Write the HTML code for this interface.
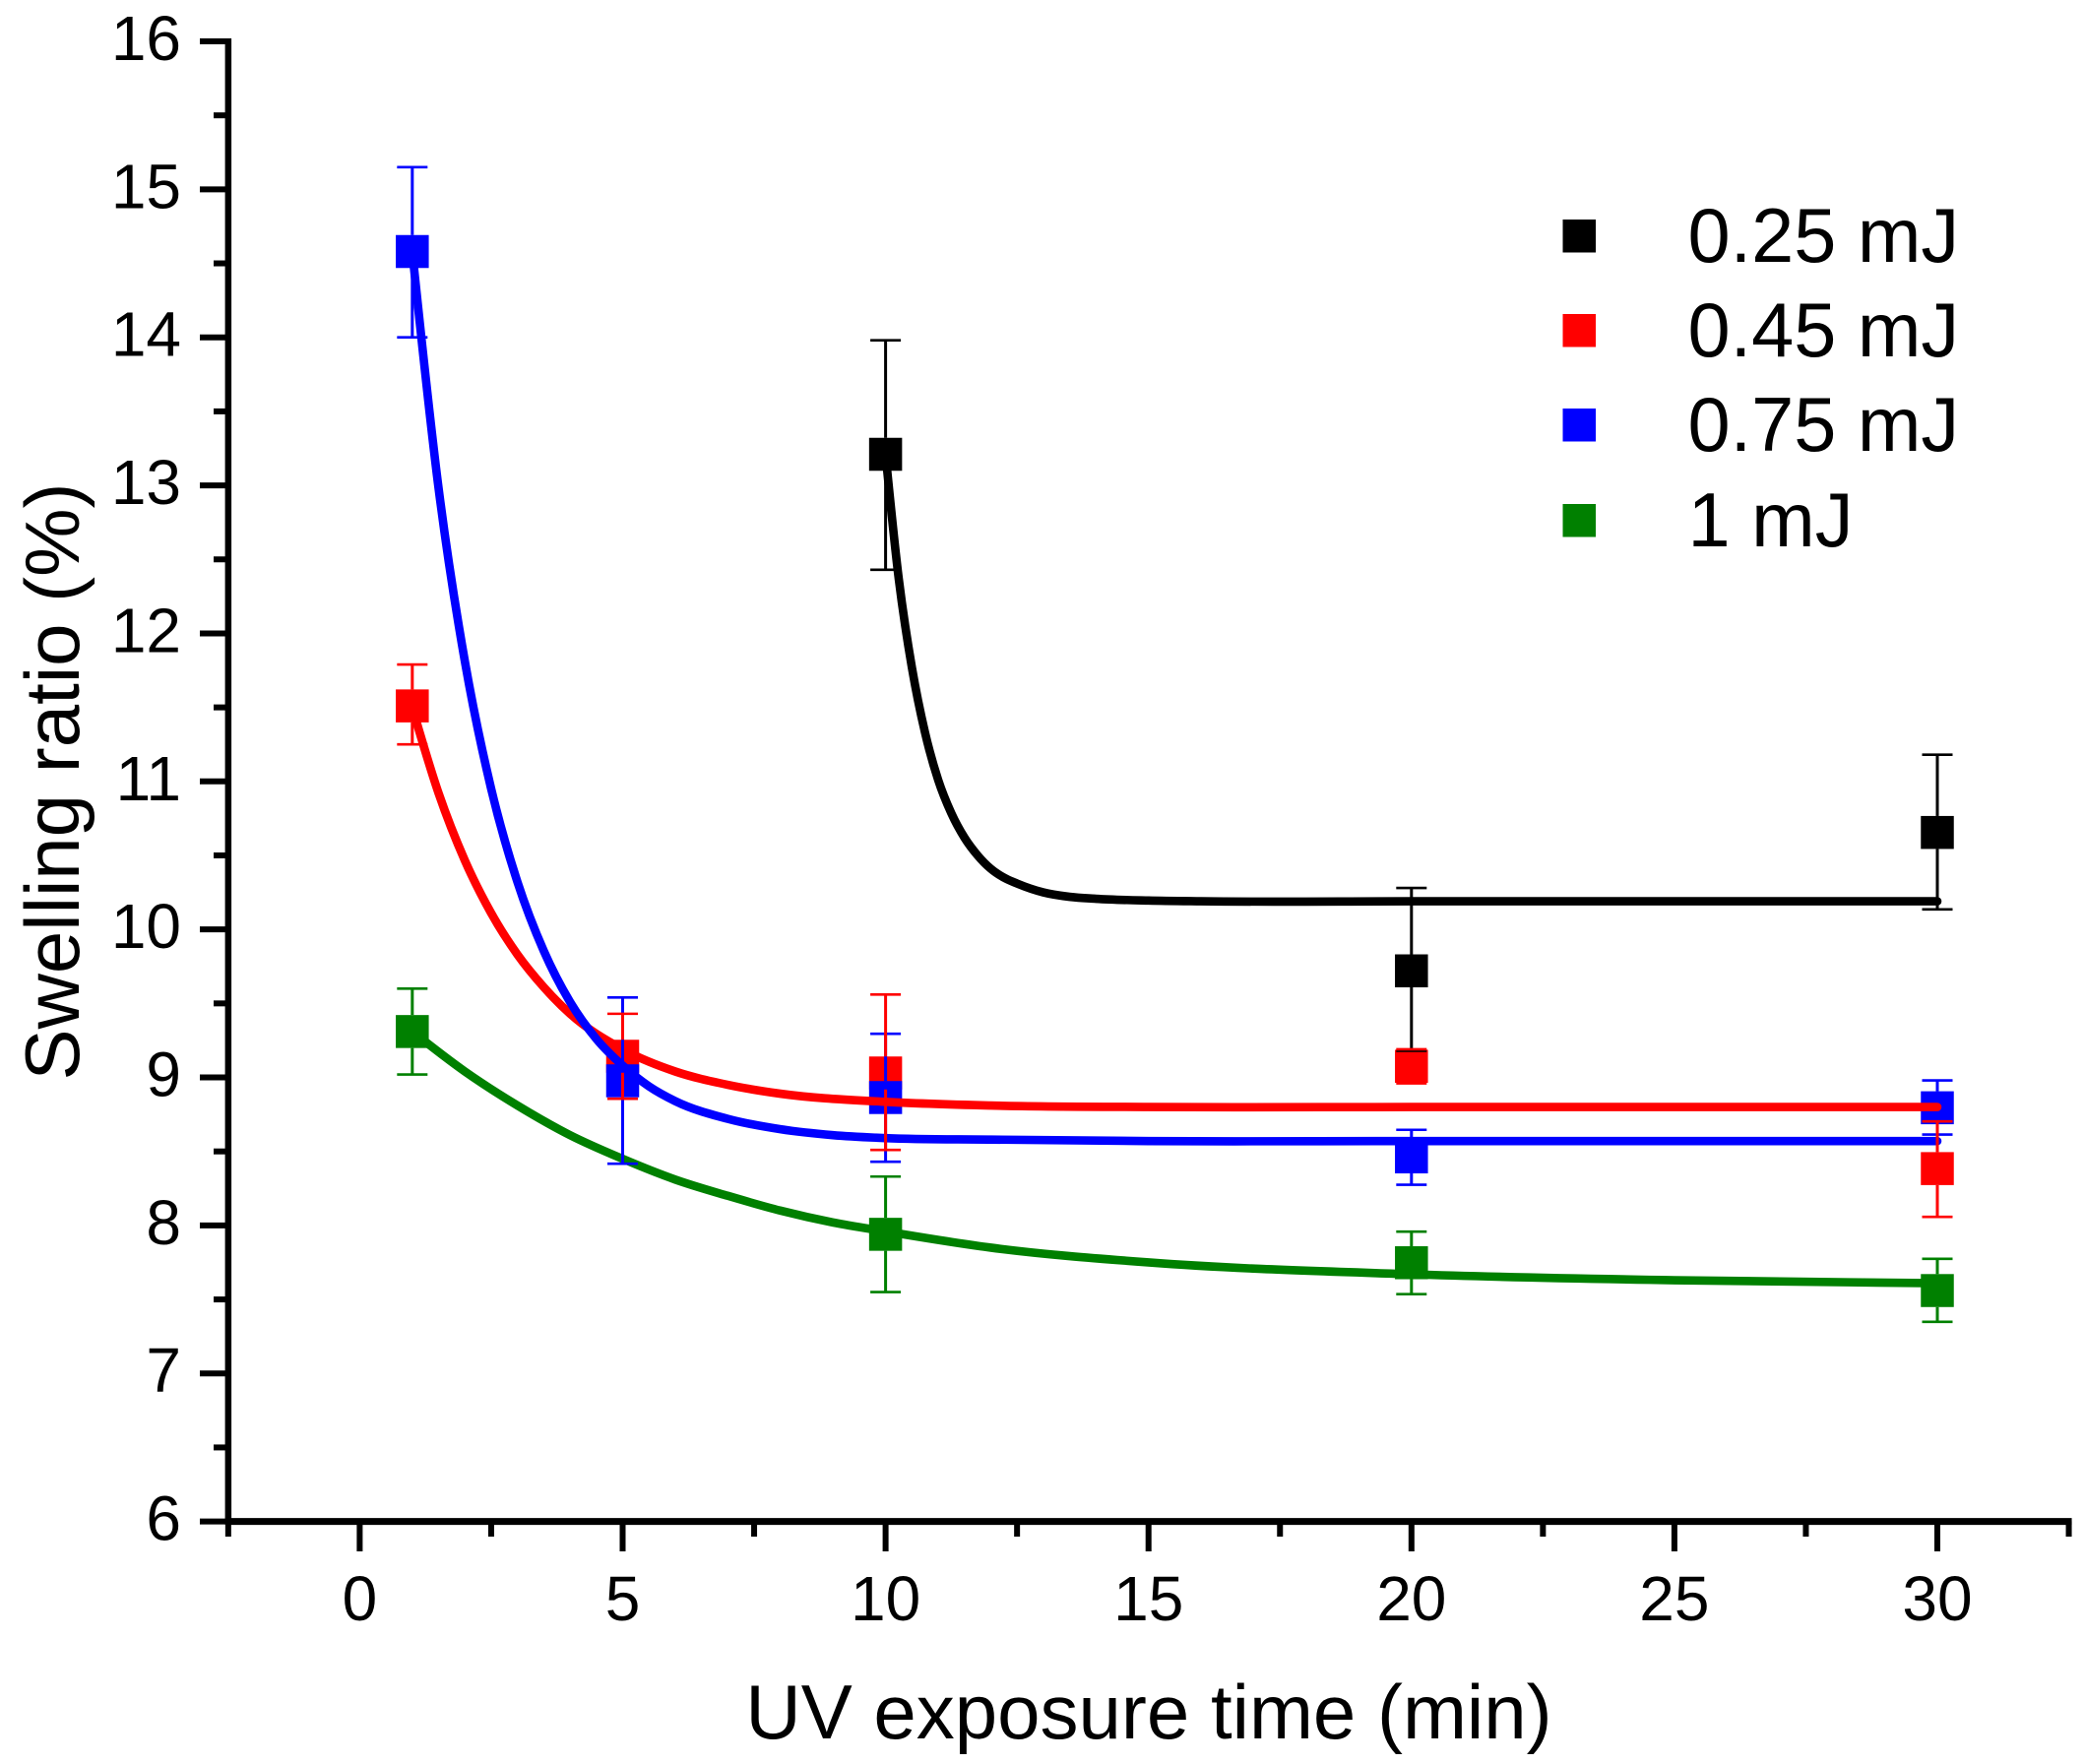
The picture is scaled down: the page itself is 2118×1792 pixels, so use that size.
<!DOCTYPE html>
<html lang="en">
<head>
<meta charset="utf-8">
<title>Swelling ratio vs UV exposure time</title>
<style>
  html, body { margin: 0; padding: 0; background: #fff; }
  svg { display: block; }
  text { font-family: "Liberation Sans", Arial, sans-serif; fill: #000; }
</style>
</head>
<body>
<svg id="chart" xmlns="http://www.w3.org/2000/svg" width="2118" height="1792" viewBox="0 0 2118 1792">
  <rect x="0" y="0" width="2118" height="1792" fill="#fff"/>
  <g id="axes"></g>
  <g id="markers"></g>
  <g id="fits"></g>
  <g id="errors"></g>
  <text x="1167" y="1766" font-size="78" text-anchor="middle">UV exposure time (min)</text>
  <text x="0" y="0" font-size="78" text-anchor="middle" transform="translate(80 794) rotate(-90)">Swelling ratio (%)</text>
  <g>
    <g>
      <rect x="1587.5" y="223" width="33.5" height="33.5" fill="#000"/>
      <text x="1714.5" y="266" font-size="77.5">0.25 mJ</text>
    </g>
    <g>
      <rect x="1587.5" y="319" width="33.5" height="33.5" fill="#f00"/>
      <text x="1714.5" y="362" font-size="77.5">0.45 mJ</text>
    </g>
    <g>
      <rect x="1587.5" y="415" width="33.5" height="33.5" fill="#00f"/>
      <text x="1714.5" y="458" font-size="77.5">0.75 mJ</text>
    </g>
    <g>
      <rect x="1587.5" y="512" width="33.5" height="33.5" fill="#008000"/>
      <text x="1714.5" y="555" font-size="77.5">1 mJ</text>
    </g>
  </g>
</svg>
<script>
// Axis tick values and labels
const xMajorTicks = [0, 5, 10, 15, 20, 25, 30];
const xMinorTicks = [-2.5, 2.5, 7.5, 12.5, 17.5, 22.5, 27.5, 32.5];
const yMajorTicks = [6, 7, 8, 9, 10, 11, 12, 13, 14, 15, 16];
const yMinorTicks = [6.5, 7.5, 8.5, 9.5, 10.5, 11.5, 12.5, 13.5, 14.5, 15.5];

// Measured points (exposure time, swelling ratio, error-bar limits)
const times025 = [10, 20, 30];
const values025 = [13.21, 9.72, 10.655];
const upper025 = [13.98, 10.28, 11.18];
const lower025 = [12.43, 9.18, 10.135];

const times045 = [1, 5, 10, 20, 30];
const values045 = [11.51, 9.143, 9.03, 9.075, 8.384];
const upper045 = [11.79, 9.43, 9.56, 9.19, 8.703];
const lower045 = [11.25, 8.856, 8.51, 8.96, 8.058];

const times075 = [1, 5, 10, 20, 30];
const values075 = [14.58, 8.977, 8.864, 8.463, 8.795];
const upper075 = [15.15, 9.54, 9.295, 8.646, 8.98];
const lower075 = [14.0, 8.417, 8.43, 8.275, 8.614];

const times100 = [1, 10, 20, 30];
const values100 = [9.31, 7.94, 7.748, 7.56];
const upper100 = [9.6, 8.33, 7.958, 7.774];
const lower100 = [9.02, 7.55, 7.536, 7.349];

// Fit curves
const fitX025 = [10, 10.25, 10.5, 10.75, 11, 11.25, 11.5, 11.75, 12, 12.25, 12.5, 13, 13.5, 14, 15, 16, 20, 30];
const fitY025 = [13.21, 12.37, 11.77, 11.33, 11.01, 10.785, 10.62, 10.5, 10.41, 10.35, 10.31, 10.25, 10.22, 10.207, 10.195, 10.19, 10.19, 10.19];

const fitX045 = [1, 1.5, 2, 2.5, 3, 3.5, 4, 5, 6, 7, 8, 10, 12, 15, 20, 30];
const fitY045 = [11.5, 10.92, 10.465, 10.11, 9.83, 9.61, 9.43, 9.19, 9.04, 8.95, 8.89, 8.835, 8.81, 8.8, 8.8, 8.8];

const fitX075 = [1, 1.5, 2, 2.5, 3, 3.5, 4, 4.5, 5, 5.5, 6, 7, 8, 9, 10, 12, 15, 20, 30];
const fitY075 = [14.58, 12.98, 11.81, 10.95, 10.32, 9.855, 9.51, 9.26, 9.08, 8.94, 8.84, 8.72, 8.65, 8.61, 8.59, 8.58, 8.57, 8.57, 8.57];

const fitX100 = [1, 2, 3, 4, 5, 6, 7, 8, 9, 10, 12, 15, 20, 25, 30];
const fitY100 = [9.31, 9.04, 8.81, 8.61, 8.45, 8.31, 8.2, 8.1, 8.02, 7.96, 7.85, 7.75, 7.67, 7.63, 7.61];

const NS = 'http://www.w3.org/2000/svg';
const px = v => 365.4 + v * 53.42;
const py = v => 1545.6 - (v - 6) * 150.36;

const COL025 = '#000000', COL045 = '#ff0000', COL075 = '#0000ff', COL100 = '#008000';
const MARKER = 33.5, CAP = 31;

function make(tag, attrs, parent) {
  const el = document.createElementNS(NS, tag);
  for (const k in attrs) el.setAttribute(k, attrs[k]);
  parent.appendChild(el);
  return el;
}

const axes = document.getElementById('axes');
const markers = document.getElementById('markers');
const fits = document.getElementById('fits');
const errors = document.getElementById('errors');

function drawAxes() {
  const xAxisLine = make('line', { x1: px(-2.5) - 3, x2: px(32.5) + 3, y1: py(6), y2: py(6), stroke: '#000', 'stroke-width': 7 }, axes);
  
  
  const yAxisLine = make('line', { x1: px(-2.5), x2: px(-2.5), y1: py(16) - 3, y2: py(6) + 3, stroke: '#000', 'stroke-width': 6.5 }, axes);
  
  

  xMajorTicks.forEach(v => {
    const t = make('line', { x1: px(v), x2: px(v), y1: py(6), y2: 1576, stroke: '#000', 'stroke-width': 6 }, axes);
    
    
    const l = make('text', { x: px(v), y: 1646, 'font-size': 64, 'text-anchor': 'middle' }, axes);
    
    
    l.textContent = String(v);
  });
  xMinorTicks.forEach(v => {
    const t = make('line', { x1: px(v), x2: px(v), y1: py(6), y2: 1561, stroke: '#000', 'stroke-width': 6 }, axes);
    
    
  });
  yMajorTicks.forEach(v => {
    const t = make('line', { x1: 203, x2: px(-2.5), y1: py(v), y2: py(v), stroke: '#000', 'stroke-width': 6 }, axes);
    
    
    const l = make('text', { x: 184, y: py(v) + 19, 'font-size': 64, 'text-anchor': 'end' }, axes);
    
    
    l.textContent = String(v);
  });
  yMinorTicks.forEach(v => {
    const t = make('line', { x1: 217, x2: px(-2.5), y1: py(v), y2: py(v), stroke: '#000', 'stroke-width': 6 }, axes);
    
    
  });
}

function drawMarkers(times, values, color, name) {
  times.forEach((t, i) => {
    const r = make('rect', { x: px(t) - MARKER / 2, y: py(values[i]) - MARKER / 2, width: MARKER, height: MARKER, fill: color }, markers);
    
    
  });
}

// Smooth cubic path through the sampled fit values (spacing-weighted tangents)
function drawFit(xs, ys, color, name) {
  const X = xs.map(px), Y = ys.map(py), n = X.length;
  const h = [], s = [], m = new Array(n);
  for (let i = 0; i < n - 1; i++) {
    h[i] = X[i + 1] - X[i];
    s[i] = (Y[i + 1] - Y[i]) / h[i];
  }
  for (let i = 1; i < n - 1; i++) {
    m[i] = (h[i] * s[i - 1] + h[i - 1] * s[i]) / (h[i - 1] + h[i]);
  }
  m[0] = (3 * s[0] - m[1]) / 2;
  m[n - 1] = s[n - 2];
  let d = 'M' + X[0] + ' ' + Y[0];
  for (let i = 0; i < n - 1; i++) {
    d += ' C' + (X[i] + h[i] / 3) + ' ' + (Y[i] + m[i] * h[i] / 3) + ' ' +
         (X[i + 1] - h[i] / 3) + ' ' + (Y[i + 1] - m[i + 1] * h[i] / 3) + ' ' +
         X[i + 1] + ' ' + Y[i + 1];
  }
  const path = make('path', { d: d, fill: 'none', stroke: color, 'stroke-width': 8.6, 'stroke-linecap': 'round', 'stroke-linejoin': 'round' }, fits);
  
  
}

function drawErrors(times, values, upper, lower, color, name) {
  times.forEach((t, i) => {
    const cx = px(t), cy = py(values[i]);
    const top = py(upper[i]), bottom = py(lower[i]);
    const g = make('g', { stroke: color, fill: 'none' }, errors);
    
    
    if (top < cy - MARKER / 2) make('line', { x1: cx, x2: cx, y1: cy - MARKER / 2, y2: top, 'stroke-width': 3 }, g);
    if (bottom > cy + MARKER / 2) make('line', { x1: cx, x2: cx, y1: cy + MARKER / 2, y2: bottom, 'stroke-width': 3 }, g);
    make('line', { x1: cx - CAP / 2, x2: cx + CAP / 2, y1: top, y2: top, 'stroke-width': 2.6 }, g);
    make('line', { x1: cx - CAP / 2, x2: cx + CAP / 2, y1: bottom, y2: bottom, 'stroke-width': 2.6 }, g);
  });
}

drawAxes();

drawMarkers(times025, values025, COL025, 'series-0-25-mj');
drawMarkers(times045, values045, COL045, 'series-0-45-mj');
drawMarkers(times075, values075, COL075, 'series-0-75-mj');
drawMarkers(times100, values100, COL100, 'series-1-mj');

drawFit(fitX025, fitY025, COL025, 'series-0-25-mj');
drawFit(fitX045, fitY045, COL045, 'series-0-45-mj');
drawFit(fitX075, fitY075, COL075, 'series-0-75-mj');
drawFit(fitX100, fitY100, COL100, 'series-1-mj');

drawErrors(times025, values025, upper025, lower025, COL025, 'series-0-25-mj');
drawErrors(times075, values075, upper075, lower075, COL075, 'series-0-75-mj');
drawErrors(times045, values045, upper045, lower045, COL045, 'series-0-45-mj');
drawErrors(times100, values100, upper100, lower100, COL100, 'series-1-mj');
</script>
</body>
</html>
